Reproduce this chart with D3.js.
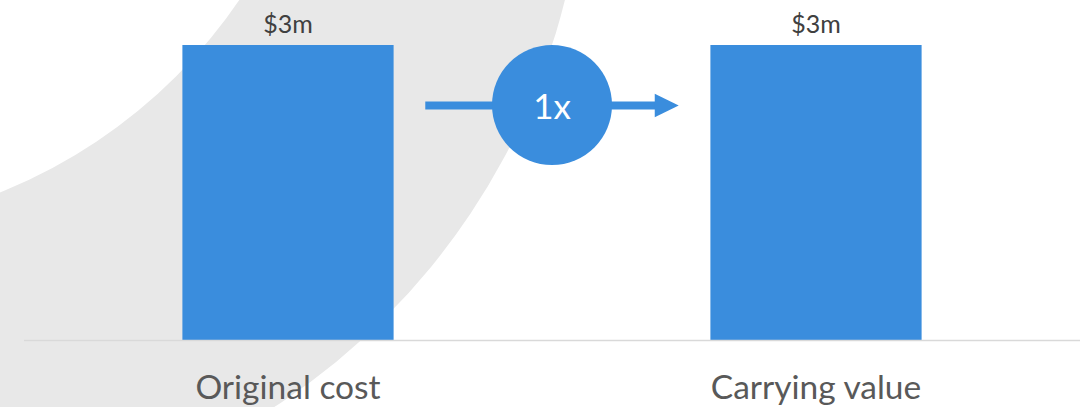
<!DOCTYPE html>
<html>
<head>
<meta charset="utf-8">
<script src="https://cdn.jsdelivr.net/npm/d3@7"></script>
<style>
  html, body { margin: 0; padding: 0; background: #ffffff; }
  svg { display: block; }
  text { font-family: Lato, "Open Sans", sans-serif; }
</style>
</head>
<body>
<svg id="chart" width="1087" height="407"></svg>
<script>
// Cost basis comparison data
const categories = ["Original cost", "Carrying value"];
const values = [3, 3];              // $ millions
const valueLabels = ["$3m", "$3m"];
const multipleLabel = "1x";

const W = 1087, H = 407;
const svg = d3.select("#chart");

// Decorative background band: a light grey ring segment sweeping across the left side
const ring = d3.path();
ring.arc(-95, -164, 680, 0, 2 * Math.PI);
ring.moveTo(-195 + 525, -295);
ring.arc(-195, -295, 525, 0, 2 * Math.PI);
svg.append("path")
  .attr("d", ring.toString())
  .attr("fill", "#e8e8e8")
  .attr("fill-rule", "evenodd");

// Scales
const x = d3.scaleBand()
  .domain(categories)
  .range([24, 1080])
  .paddingInner(0.6)
  .paddingOuter(0.3);

const y = d3.scaleLinear()
  .domain([0, 3])
  .range([340, 45]);

// Bars
svg.append("g").selectAll("rect")
  .data(categories)
  .join("rect")
  .attr("x", d => x(d))
  .attr("y", (d, i) => y(values[i]))
  .attr("width", x.bandwidth())
  .attr("height", (d, i) => y(0) - y(values[i]))
  .attr("fill", "#3a8ddd");

// Baseline
svg.append("line")
  .attr("x1", 24).attr("x2", 1080)
  .attr("y1", y(0) + 0.5).attr("y2", y(0) + 0.5)
  .attr("stroke", "#d9d9d9")
  .attr("stroke-width", 1.5);

// Value labels above bars
svg.append("g").selectAll("text")
  .data(categories)
  .join("text")
  .attr("x", d => x(d) + x.bandwidth() / 2)
  .attr("y", (d, i) => y(values[i]) - 12)
  .attr("text-anchor", "middle")
  .attr("font-size", 25)
  .attr("fill", "#404040")
  .text((d, i) => valueLabels[i]);

// Category labels under the baseline
svg.append("g").selectAll("text")
  .data(categories)
  .join("text")
  .attr("x", d => x(d) + x.bandwidth() / 2)
  .attr("y", 399)
  .attr("text-anchor", "middle")
  .attr("font-size", 33.5)
  .attr("fill", "#595959")
  .text(d => d);

// Arrow with multiple badge between the two bars
const leftEdge = x(categories[0]) + x.bandwidth();
const rightEdge = x(categories[1]);
const gap = rightEdge - leftEdge;
const ax1 = leftEdge + gap * 0.1, ax2 = rightEdge - gap * 0.1;
const ay = y(values[0]) + 60.5;
const cx = (ax1 + ax2) / 2;

const arrow = svg.append("g");
arrow.append("line")
  .attr("x1", ax1).attr("x2", ax2 - 22)
  .attr("y1", ay).attr("y2", ay)
  .attr("stroke", "#3a8ddd")
  .attr("stroke-width", 8);
arrow.append("path")
  .attr("d", `M${ax2 - 24},${ay - 11.7} L${ax2},${ay} L${ax2 - 24},${ay + 11.7} Z`)
  .attr("fill", "#3a8ddd");
arrow.append("circle")
  .attr("cx", cx).attr("cy", y(values[0]) + 60)
  .attr("r", 60)
  .attr("fill", "#3a8ddd");
arrow.append("text")
  .attr("x", cx)
  .attr("y", y(values[0]) + 60 + 14)
  .attr("text-anchor", "middle")
  .attr("font-size", 35)
  .attr("fill", "#ffffff")
  .text(multipleLabel);
</script>
</body>
</html>
